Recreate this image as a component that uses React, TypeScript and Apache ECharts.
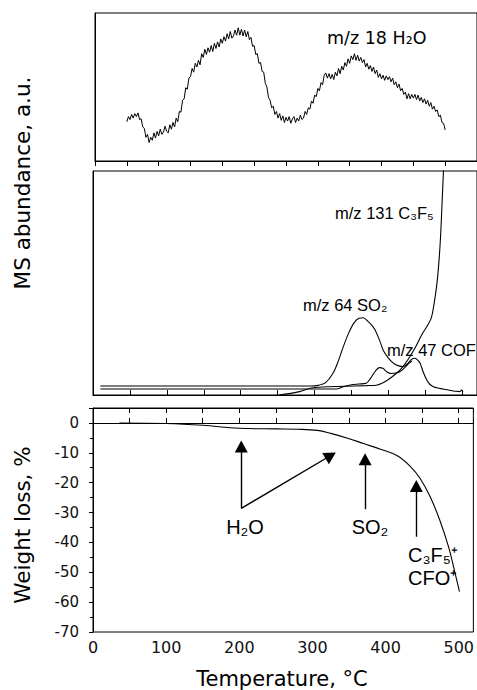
import React, { useEffect, useRef } from 'react';
import * as echarts from 'echarts';

// ---- top panel: m/z 18 H2O (own temperature scale) ----
const h2oX = [50, 52.5, 55, 57.5, 60, 62.5, 65, 67.5, 70, 72.5, 75, 77.5, 80, 82.5, 85, 87.5, 90, 92.5, 95, 97.5, 100, 102.5, 105, 107.5, 110, 112.5, 115, 117.5, 120, 122.5, 125, 127.5, 130, 132.5, 135, 137.5, 140, 142.5, 145, 147.5, 150, 152.5, 155, 157.5, 160, 162.5, 165, 167.5, 170, 172.5, 175, 177.5, 180, 182.5, 185, 187.5, 190, 192.5, 195, 197.5, 200, 202.5, 205, 207.5, 210, 212.5, 215, 217.5, 220, 222.5, 225, 227.5, 230, 232.5, 235, 237.5, 240, 242.5, 245, 247.5, 250, 252.5, 255, 257.5, 260, 262.5, 265, 267.5, 270, 272.5, 275, 277.5, 280, 282.5, 285, 287.5, 290, 292.5, 295, 297.5, 300, 302.5, 305, 307.5, 310, 312.5, 315, 317.5, 320, 322.5, 325, 327.5, 330, 332.5, 335, 337.5, 340, 342.5, 345, 347.5, 350, 352.5, 355, 357.5, 360, 362.5, 365, 367.5, 370, 372.5, 375, 377.5, 380, 382.5, 385, 387.5, 390, 392.5, 395, 397.5, 400, 402.5, 405, 407.5, 410, 412.5, 415, 417.5, 420, 422.5, 425, 427.5, 430, 432.5, 435, 437.5, 440, 442.5, 445, 447.5, 450, 452.5, 455, 457.5, 460, 462.5, 465, 467.5, 470, 472.5, 475, 477.5, 480, 482.5, 485, 487.5, 490, 492.5, 495, 497.5, 500, 502.5, 505, 507.5, 510, 512.5, 515, 517.5, 520, 522.5, 525, 527.5, 530, 532.5, 535, 537.5, 540, 542.5, 545, 547.5, 550];
const h2oY = [26.5, 30, 28, 31.5, 29, 32, 30, 32.5, 28, 28.5, 23, 22, 16, 18, 12.5, 16, 14, 19, 15.5, 20, 17, 21.5, 18, 19.5, 23.5, 20, 19, 24.5, 21.5, 26, 23, 29, 26.5, 33.5, 33, 41, 42, 49.5, 48.5, 56, 57, 62.5, 60, 66, 63.5, 68, 65, 72.5, 70, 75.5, 72, 76.5, 73.5, 78, 74, 79.5, 76, 80.5, 77, 82.5, 79.5, 84, 81, 86, 82.5, 87.5, 83, 84.5, 88.5, 85, 90, 85, 89, 84.5, 88.5, 84, 87.5, 82, 83.5, 77.5, 78, 72, 72.5, 66, 66.5, 60.5, 60, 52.5, 50, 43, 41, 36, 37, 31.5, 33.5, 29, 32, 27.5, 30.5, 26, 29.5, 27, 30, 25.5, 28.5, 30, 26, 29, 27, 31, 28, 29, 33.5, 31.5, 36, 35, 40.5, 39, 44.5, 43.5, 49, 47.5, 53, 51.5, 58, 59.5, 56, 59, 55.5, 58.5, 55, 60, 57.5, 62.5, 59, 64, 61.5, 66.5, 64, 69, 66, 71, 68.5, 72.5, 68, 71.5, 67.5, 70, 66.5, 68.5, 63.5, 66, 62, 64.5, 60.5, 63.5, 59, 61.5, 56.5, 59, 55.5, 58, 54.5, 57.5, 55, 57, 53.5, 56, 51.5, 53.5, 49.5, 52, 47.5, 49, 45, 46.5, 42, 45.5, 42, 45, 42.5, 45, 41.5, 44.5, 40.5, 43, 39.5, 42, 38.5, 41, 37, 39.5, 35, 37, 33.5, 34.5, 30, 31, 26, 25.5, 21];

// ---- middle panel: MS traces (temperature, a.u.) ----
const so2T = [10, 295, 305, 315, 325, 332, 339, 346, 353, 360, 366, 372, 378, 382, 388, 393, 400, 407, 414, 420, 426, 431, 436, 440, 443, 447, 452, 456, 461, 467, 474, 481, 488, 494, 497, 499, 501];
const so2V = [4.0, 4.0, 4.3, 5.5, 9.7, 15, 21.6, 27.5, 32, 34.3, 34.5, 33, 31, 29, 24.5, 20, 16.5, 14.2, 13, 12.7, 14, 15.8, 16.4, 15.5, 14.2, 10.4, 6.7, 4.8, 3.7, 3.1, 2.7, 2.2, 1.8, 1.6, 1.5, 2.2, 1.3];
const cofT = [10, 330, 340, 350, 360, 370, 376, 382, 388, 393, 398, 404, 410, 416, 422, 428, 432];
const cofV = [2.7, 2.7, 3.8, 4.6, 4.9, 5.2, 7.5, 10.5, 12.2, 11.8, 10.3, 9.6, 9.8, 10.5, 12.2, 14.2, 15.2];
const c3f5T = [252, 265, 280, 294, 310, 340, 370, 385, 398, 411, 420, 429, 437, 445, 452, 458, 462, 466, 469, 471, 473, 475];
const c3f5V = [0, 0.6, 1.5, 3.0, 3.6, 3.9, 4.2, 4.5, 6.5, 9.7, 12.8, 17.1, 21.5, 26.8, 30.5, 34.3, 41, 50.5, 62, 73, 88, 103];

// ---- bottom panel: TGA weight loss ----
const tgaT = [36, 100, 150, 200, 250, 280, 307, 325, 348, 371, 393, 416, 434, 447, 461, 474, 486, 495, 501];
const tgaW = [0, -0.2, -0.8, -1.8, -2.0, -2.1, -2.5, -3.5, -5.1, -7.0, -8.8, -11.0, -14.6, -18.5, -24.7, -32.5, -41.4, -50.3, -56.5];

// arrows: [fromT, fromW, toT, toW]
const arrows = [
  [202.7, -28.6, 202.7, -7.9],
  [202.7, -28.6, 325, -10.9],
  [372, -28.9, 372, -12.2],
  [442, -38.1, 442, -21.1],
];

const zip = (a: number[], b: number[]) => a.map((v, i) => [v, b[i]]);

const BLACK = '#000';
const VERD = 'DejaVu Sans, Verdana, sans-serif';
const ARIAL = 'Liberation Sans, Arial, sans-serif';

function buildOption() {
  const hiddenAxis = (grid: number, min: number, max: number) => ({
    type: 'value', gridIndex: grid, min, max,
    axisLine: { show: true, lineStyle: { color: BLACK, width: 1 } },
    axisTick: { show: false }, axisLabel: { show: false }, splitLine: { show: false },
  });
  const msLine = (name: string, t: number[], v: number[]) => ({
    name, type: 'line', xAxisIndex: 1, yAxisIndex: 1, data: zip(t, v),
    showSymbol: false, symbol: 'none', smooth: 0.3,
    lineStyle: { color: BLACK, width: 1.1 }, itemStyle: { color: BLACK },
    silent: true, z: 3,
  });
  return {
    animation: false,
    backgroundColor: '#fff',
    grid: [
      { left: 95, top: 13, width: 385, height: 148, show: true, borderColor: BLACK, borderWidth: 1 },
      { left: 93, top: 171, width: 384, height: 224, show: true, borderColor: BLACK, borderWidth: 1 },
      { left: 93, top: 408, width: 384, height: 224, show: true, borderColor: BLACK, borderWidth: 1 },
    ],
    xAxis: [
      {
        type: 'value', gridIndex: 0, min: 0, max: 600, interval: 50,
        axisLine: { show: true, lineStyle: { color: BLACK } },
        axisTick: { show: true, inside: false, length: 5, lineStyle: { color: BLACK } },
        axisLabel: { show: false }, splitLine: { show: false },
      },
      {
        type: 'value', gridIndex: 1, min: 0, max: 520, interval: 50,
        axisLine: { show: true, lineStyle: { color: BLACK } },
        axisTick: { show: true, inside: true, length: 5, lineStyle: { color: BLACK } },
        axisLabel: { show: false }, splitLine: { show: false },
      },
      {
        type: 'value', gridIndex: 2, min: 0, max: 520, interval: 50, position: 'bottom',
        axisLine: { show: true, lineStyle: { color: BLACK } },
        axisTick: { show: true, inside: true, length: 5, lineStyle: { color: BLACK } },
        axisLabel: {
          show: true, color: '#111', fontFamily: VERD, fontSize: 16, margin: 7,
          formatter: (v: number) => (v % 100 === 0 && v <= 500 ? String(v) : ''),
        },
        splitLine: { show: false },
      },
      {
        type: 'value', gridIndex: 2, min: 0, max: 520, interval: 50, position: 'top',
        axisLine: { show: true, lineStyle: { color: BLACK } },
        axisTick: { show: true, inside: true, length: 5, lineStyle: { color: BLACK } },
        axisLabel: { show: false }, splitLine: { show: false },
      },
    ],
    yAxis: [
      hiddenAxis(0, 0, 100),
      hiddenAxis(1, 0, 100),
      {
        type: 'value', gridIndex: 2, min: -70, max: 5, interval: 10,
        axisLine: { show: true, lineStyle: { color: BLACK } },
        axisTick: { show: true, inside: false, length: 4, lineStyle: { color: BLACK } },
        minorTick: { show: true, splitNumber: 2, length: 3, lineStyle: { color: BLACK } },
        axisLabel: {
          show: true, color: '#111', fontFamily: VERD, fontSize: 15, margin: 14,
          formatter: (v: number) => (v > 0 ? '' : String(v)),
        },
        splitLine: { show: false }, minorSplitLine: { show: false },
      },
    ],
    series: [
      {
        name: 'm/z 18 H2O', type: 'line', xAxisIndex: 0, yAxisIndex: 0, data: zip(h2oX, h2oY),
        showSymbol: false, symbol: 'none', lineStyle: { color: BLACK, width: 1 }, silent: true,
      },
      msLine('m/z 64 SO2', so2T, so2V),
      msLine('m/z 47 COF', cofT, cofV),
      msLine('m/z 131 C3F5', c3f5T, c3f5V),
      {
        name: 'Weight loss', type: 'line', xAxisIndex: 2, yAxisIndex: 2, data: zip(tgaT, tgaW),
        showSymbol: false, symbol: 'none', smooth: 0.4, lineStyle: { color: BLACK, width: 1.1 }, silent: true,
        markLine: {
          silent: true, animation: false,
          symbol: ['none', 'triangle'], symbolSize: [13, 12],
          lineStyle: { color: BLACK, width: 1.4, type: 'solid' },
          itemStyle: { color: BLACK },
          label: { show: false },
          emphasis: { disabled: true },
          data: arrows.map((a) => [{ coord: [a[0], a[1]] }, { coord: [a[2], a[3]] }]),
        },
      },
    ],
    graphic: [
      { type: 'text', x: 327, y: 38, style: { text: 'm/z 18 H₂O', fontFamily: VERD, fontSize: 17.5, fill: BLACK, align: 'left', verticalAlign: 'middle' } },
      { type: 'text', x: 335, y: 213, style: { text: 'm/z 131 C₃F₅', fontFamily: ARIAL, fontSize: 16.5, fill: BLACK, align: 'left', verticalAlign: 'middle' } },
      { type: 'text', x: 303, y: 305, style: { text: 'm/z 64 SO₂', fontFamily: ARIAL, fontSize: 16.5, fill: BLACK, align: 'left', verticalAlign: 'middle' } },
      { type: 'text', x: 387, y: 350, style: { text: 'm/z 47 COF', fontFamily: ARIAL, fontSize: 16.5, fill: BLACK, align: 'left', verticalAlign: 'middle' } },
      { type: 'text', x: 245, y: 527, style: { text: 'H₂O', fontFamily: ARIAL, fontSize: 20, fill: BLACK, align: 'center', verticalAlign: 'middle' } },
      { type: 'text', x: 370, y: 527, style: { text: 'SO₂', fontFamily: ARIAL, fontSize: 20, fill: BLACK, align: 'center', verticalAlign: 'middle' } },
      { type: 'text', x: 408, y: 555, style: { text: 'C₃F₅⁺', fontFamily: ARIAL, fontSize: 20, fill: BLACK, align: 'left', verticalAlign: 'middle' } },
      { type: 'text', x: 408, y: 578, style: { text: 'CFO⁺', fontFamily: ARIAL, fontSize: 20, fill: BLACK, align: 'left', verticalAlign: 'middle' } },
      { type: 'text', x: 22, y: 183, rotation: Math.PI / 2, style: { text: 'MS abundance, a.u.', fontFamily: VERD, fontSize: 21.5, fill: BLACK, align: 'center', verticalAlign: 'middle' } },
      { type: 'text', x: 22, y: 525, rotation: Math.PI / 2, style: { text: 'Weight loss, %', fontFamily: VERD, fontSize: 21.5, fill: BLACK, align: 'center', verticalAlign: 'middle' } },
      { type: 'text', x: 282, y: 679, style: { text: 'Temperature, °C', fontFamily: VERD, fontSize: 21, fill: BLACK, align: 'center', verticalAlign: 'middle' } },
    ],
  };
}

export default function App() {
  const ref = useRef<HTMLDivElement>(null);
  useEffect(() => {
    if (!ref.current) return;
    const chart = echarts.init(ref.current, null, { renderer: 'svg' });
    chart.setOption(buildOption() as any);
    return () => chart.dispose();
  }, []);
  return (
    <div
      ref={ref}
      style={{ position: 'fixed', left: 0, top: 0, width: 477, height: 690, background: '#fff' }}
    />
  );
}
